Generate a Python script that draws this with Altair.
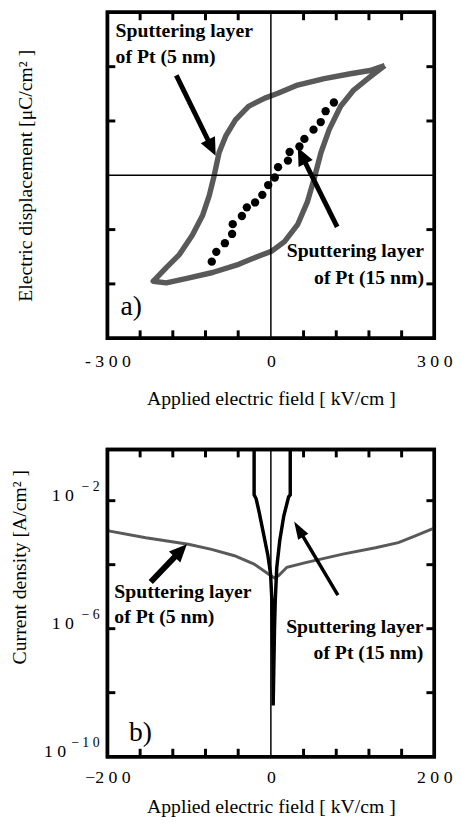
import math
import altair as alt
import pandas as pd

FONT = "Liberation Serif"
GRAY = "#595959"

# ---------------- Panel a data: D-E hysteresis ----------------
# 5 nm Pt loop (upper branch right->left, then lower branch left->right)
loop_e = [209, 182, 146, 98, 49, 13, -11, -41, -65, -83, -95, -104, -113, -125, -144, -168, -192, -210, -216,
          -192, -150, -107, -59, -23, 1, 25, 49, 67, 80, 92, 107, 128, 152, 182, 209]
loop_d = [2.02, 1.93, 1.87, 1.78, 1.66, 1.51, 1.42, 1.27, 1.02, 0.72, 0.42, 0.0, -0.37, -0.73, -1.10, -1.46, -1.70, -1.89, -1.95,
          -1.98, -1.89, -1.79, -1.64, -1.49, -1.40, -1.22, -0.91, -0.49, -0.04, 0.42, 0.84, 1.27, 1.57, 1.81, 2.02]
# 15 nm Pt (dots)
dots_e = [-108.5, -100.2, -84.4, -71.2, -70.0, -53.2, -44.1, -29.0, -15.7, -4.9, 7.2, 13.2, 31.3, 34.4, 52.4, 61.5, 78.3, 91.5, 100.5, 115.7]
dots_d = [-1.59, -1.41, -1.25, -1.08, -0.90, -0.75, -0.59, -0.50, -0.36, -0.18, -0.04, 0.15, 0.27, 0.43, 0.53, 0.67, 0.84, 0.98, 1.18, 1.34]
a_xlabels = [-300, 0, 300]
a_xticks = [-240, -180, -120, -60, 60, 120, 180, 240]
a_yticks = [-2, -1, 1, 2]

# ---------------- Panel b data: J-E ----------------
b5_e = [-200, -197, -153, -101, -72.6, -44.6, -20.5, -0.4, 4.6, 9.6, 19.6, 43.7, 88, 128, 156, 176, 196, 200]
b5_logj = [-2.92, -2.95, -3.16, -3.36, -3.52, -3.72, -3.98, -4.34, -4.42, -4.34, -4.08, -3.93, -3.67, -3.47, -3.31, -3.11, -2.90, -2.85]
b15_e = [-20.5, -20.5, -18.0, -14.5, -8.4, -3.6, -0.4, 1.2, 2.4, 2.8, 4.5, 5.4, 7.2, 10.8, 15.7, 21.7, 23.7, 23.7]
b15_logj = [-0.4, -1.82, -1.94, -2.34, -3.11, -3.72, -4.28, -5.10, -6.65, -8.40, -5.94, -5.10, -4.09, -3.26, -2.49, -1.88, -1.82, -0.4]
b_xlabels = [-200, 0, 200]
b_xticks = [-160, -120, -80, -40, 40, 80, 120, 160]
b_ylabel_exp = [-2, -6]
b_ylabel_exp_low = [-10]
b_ytick_exp = [-2, -4, -6, -8]

# ---------------- geometry ----------------
WA, HA = 332, 331
WB, HB = 332, 312
XA, YA = (-300, 300), (-3, 3)
XB, LOGB = (-200, 200), (-10, -0.4)
TICK = 8


def px_a(e, d):
    return (e - XA[0]) / (XA[1] - XA[0]) * WA, (YA[1] - d) / (YA[1] - YA[0]) * HA


def data_a(px, py):
    return XA[0] + px / WA * (XA[1] - XA[0]), YA[1] - py / HA * (YA[1] - YA[0])


def px_b(e, lg):
    return (e - XB[0]) / (XB[1] - XB[0]) * WB, (LOGB[1] - lg) / (LOGB[1] - LOGB[0]) * HB


def data_b(px, py):
    return XB[0] + px / WB * (XB[1] - XB[0]), LOGB[1] - py / HB * (LOGB[1] - LOGB[0])


def arrow(tail, tip, to_px, to_data, head_len, half_w, shaft_w, xs, ys, yconv=lambda v: v):
    tx, ty = to_px(*tail)
    hx, hy = to_px(*tip)
    dx, dy = hx - tx, hy - ty
    L = math.hypot(dx, dy)
    ux, uy = dx / L, dy / L
    ang = math.degrees(math.atan2(ux, -uy)) % 360
    cx, cy = hx - ux * head_len / 2, hy - uy * head_len / 2
    cd = to_data(cx, cy)
    df = pd.DataFrame({"x": [tail[0]], "y": [yconv(tail[1])], "x2": [cd[0]], "y2": [yconv(cd[1])]})
    shaft = alt.Chart(df).mark_rule(color="black", strokeWidth=shaft_w, strokeCap="butt").encode(
        x=alt.X("x:Q", scale=xs), y=alt.Y("y:Q", scale=ys), x2="x2:Q", y2="y2:Q")
    shape = f"M0,-1L{half_w * 2 / head_len:.3f},1L-{half_w * 2 / head_len:.3f},1Z"
    head = alt.Chart(df).mark_point(shape=shape, size=head_len ** 2, filled=True, color="black",
                                    opacity=1, angle=ang, strokeWidth=0).encode(
        x=alt.X("x2:Q", scale=xs), y=alt.Y("y2:Q", scale=ys))
    return shaft + head


def inward_ticks(vals, field_scale, w, h, axis):
    df = pd.DataFrame({"v": vals})
    base = alt.Chart(df).mark_rule(color="black", strokeWidth=3)
    if axis == "x":
        top = base.encode(x=alt.X("v:Q", scale=field_scale), y=alt.value(0), y2=alt.value(TICK))
        bot = base.encode(x=alt.X("v:Q", scale=field_scale), y=alt.value(h), y2=alt.value(h - TICK))
    else:
        top = base.encode(y=alt.Y("v:Q", scale=field_scale), x=alt.value(0), x2=alt.value(TICK))
        bot = base.encode(y=alt.Y("v:Q", scale=field_scale), x=alt.value(w), x2=alt.value(w - TICK))
    return top + bot


def frame(w, h):
    return alt.Chart(pd.DataFrame({"k": [0]})).mark_rect(
        filled=False, stroke="black", strokeWidth=3.5, fillOpacity=0).encode(
        x=alt.value(0), x2=alt.value(w), y=alt.value(0), y2=alt.value(h))


def label_text(df, scale_x, scale_y, align, size=20, bold=True):
    return alt.Chart(df).mark_text(align=align, baseline="middle", font=FONT, fontSize=size,
                                   fontWeight="bold" if bold else "normal", color="black").encode(
        x=alt.X("x:Q", scale=scale_x), y=alt.Y("y:Q", scale=scale_y), text="t:N")


# ---------------- Panel a ----------------
sxa = alt.Scale(domain=list(XA), nice=False, zero=False)
sya = alt.Scale(domain=list(YA), nice=False, zero=False)

xaxis_a = alt.Axis(values=a_xlabels, labelExpr="datum.value == -300 ? '- 3 0 0' : datum.value == 0 ? '0' : '3 0 0'",
                   ticks=False, domain=False, grid=False, labelFlush=False, labelOverlap=False,
                   labelFont=FONT, labelFontSize=18, labelPadding=15, labelColor="black",
                   title="Applied electric field [ kV/cm  ]", titleFont=FONT, titleFontSize=20,
                   titleFontWeight="normal", titleY=61, titleBaseline="middle", titleColor="black")
yaxis_a = alt.Axis(labels=False, ticks=False, domain=False, grid=False,
                   title="Electric displacement [μC/cm² ]", titleFont=FONT, titleFontSize=20,
                   titleFontWeight="normal", titleX=-83, titleY=HA / 2, titleBaseline="middle",
                   titleAngle=270, titleColor="black")

loop_df = pd.DataFrame({"e": loop_e, "d": loop_d, "o": range(len(loop_e))})
loop = alt.Chart(loop_df).mark_line(color=GRAY, strokeWidth=5.5, strokeJoin="round").encode(
    x=alt.X("e:Q", scale=sxa, axis=xaxis_a), y=alt.Y("d:Q", scale=sya, axis=yaxis_a), order="o:Q")
dots = alt.Chart(pd.DataFrame({"e": dots_e, "d": dots_d})).mark_circle(color="black", size=72, opacity=1).encode(
    x=alt.X("e:Q", scale=sxa), y=alt.Y("d:Q", scale=sya))
zero_v_a = alt.Chart(pd.DataFrame({"e": [0]})).mark_rule(color="black", strokeWidth=1.5).encode(
    x=alt.X("e:Q", scale=sxa))
zero_h_a = alt.Chart(pd.DataFrame({"d": [0]})).mark_rule(color="black", strokeWidth=1.5).encode(
    y=alt.Y("d:Q", scale=sya))

texts_a = pd.DataFrame({"x": [-285, -285], "y": [2.65, 2.18], "t": ["Sputtering layer", "of Pt (5 nm)"]})
texts_a2 = pd.DataFrame({"x": [281, 281], "y": [-1.40, -1.89], "t": ["Sputtering layer", "of Pt (15 nm)"]})
tag_a = pd.DataFrame({"x": [-276], "y": [-2.42], "t": ["a)"]})

panel_a = alt.layer(
    loop, zero_v_a, zero_h_a, dots,
    inward_ticks(a_xticks, sxa, WA, HA, "x"), inward_ticks(a_yticks, sya, WA, HA, "y"),
    arrow((-173.6, 1.84), (-101.3, 0.36), px_a, data_a, 18, 8, 5, sxa, sya),
    arrow((121.7, -0.95), (49.4, 0.51), px_a, data_a, 18, 8, 5, sxa, sya),
    label_text(texts_a, sxa, sya, "left"),
    label_text(texts_a2, sxa, sya, "right"),
    label_text(tag_a, sxa, sya, "left", size=28, bold=False),
    frame(WA, HA),
).properties(width=WA, height=HA)

# ---------------- Panel b ----------------
sxb = alt.Scale(domain=list(XB), nice=False, zero=False)
syb = alt.Scale(type="log", domain=[10 ** LOGB[0], 10 ** LOGB[1]], nice=False)

xaxis_b = alt.Axis(values=b_xlabels, labelExpr="datum.value == -200 ? '−2 0 0' : datum.value == 0 ? '0' : '2 0 0'",
                   ticks=False, domain=False, grid=False, labelFlush=False, labelOverlap=False,
                   labelFont=FONT, labelFontSize=18, labelPadding=12, labelColor="black",
                   title="Applied electric field [ kV/cm  ]", titleFont=FONT, titleFontSize=20,
                   titleFontWeight="normal", titleY=51, titleBaseline="middle", titleColor="black")
yaxis_b = alt.Axis(labels=False, ticks=False, domain=False, grid=False,
                   title="Current density [A/cm² ]", titleFont=FONT, titleFontSize=20,
                   titleFontWeight="normal", titleX=-89, titleY=119, titleBaseline="middle",
                   titleAngle=270, titleColor="black")

g5 = pd.DataFrame({"e": b5_e, "j": [10 ** v for v in b5_logj], "o": range(len(b5_e))})
g15 = pd.DataFrame({"e": b15_e, "j": [10 ** v for v in b15_logj], "o": range(len(b15_e))})
curve5 = alt.Chart(g5).mark_line(color=GRAY, strokeWidth=3).encode(
    x=alt.X("e:Q", scale=sxb, axis=xaxis_b), y=alt.Y("j:Q", scale=syb, axis=yaxis_b), order="o:Q")
curve15 = alt.Chart(g15).mark_line(color="black", strokeWidth=3.5, clip=True).encode(
    x=alt.X("e:Q", scale=sxb), y=alt.Y("j:Q", scale=syb), order="o:Q")
zero_v_b = alt.Chart(pd.DataFrame({"e": [0]})).mark_rule(color="black", strokeWidth=1.5).encode(
    x=alt.X("e:Q", scale=sxb))


# y tick labels "10" with superscript exponents
def ylab(exps, base_x):
    df = pd.DataFrame({"j": [10.0 ** k for k in exps],
                       "exp": ["− " + " ".join(str(-k)) for k in exps]})
    base = alt.Chart(df).mark_text(align="right", baseline="alphabetic", font=FONT, fontSize=18,
                                   color="black", text="1 0").encode(
        y=alt.Y("j:Q", scale=syb), x=alt.value(base_x))
    sup = alt.Chart(df).mark_text(align="right", baseline="alphabetic", font=FONT, fontSize=14,
                                  color="black", dy=-10).encode(
        y=alt.Y("j:Q", scale=syb), x=alt.value(-8), text="exp:N")
    return base + sup


texts_b = pd.DataFrame({"x": [-191.6, -191.6], "y": [10 ** -4.86, 10 ** -5.63], "t": ["Sputtering layer", "of Pt (5 nm)"]})
texts_b2 = pd.DataFrame({"x": [186.7, 186.7], "y": [10 ** -5.94, 10 ** -6.77], "t": ["Sputtering layer", "of Pt (15 nm)"]})
tag_b = pd.DataFrame({"x": [-173.5], "y": [10 ** -9.25], "t": ["b)"]})

pow10 = lambda v: 10 ** v
panel_b = alt.layer(
    curve5, zero_v_b, curve15,
    inward_ticks(b_xticks, sxb, WB, HB, "x"), inward_ticks([10.0 ** k for k in b_ytick_exp], syb, WB, HB, "y"),
    arrow((-147, -4.54), (-102.8, -3.36), px_b, data_b, 18, 8, 6, sxb, syb, pow10),
    arrow((82, -4.95), (28.5, -2.65), px_b, data_b, 18, 6, 3.5, sxb, syb, pow10),
    label_text(texts_b, sxb, syb, "left"),
    label_text(texts_b2, sxb, syb, "right"),
    label_text(tag_b, sxb, syb, "left", size=28, bold=False),
    ylab(b_ylabel_exp, -34),
    ylab(b_ylabel_exp_low, -42),
    frame(WB, HB),
).properties(width=WB, height=HB)

chart = alt.vconcat(panel_a, panel_b, spacing=36).properties(
    padding={"left": 0, "top": -6, "right": 0, "bottom": 0}, background="white"
).configure_view(stroke="black", strokeWidth=3.5)

chart.save("out.html", embed_options={"renderer": "svg", "actions": False})
